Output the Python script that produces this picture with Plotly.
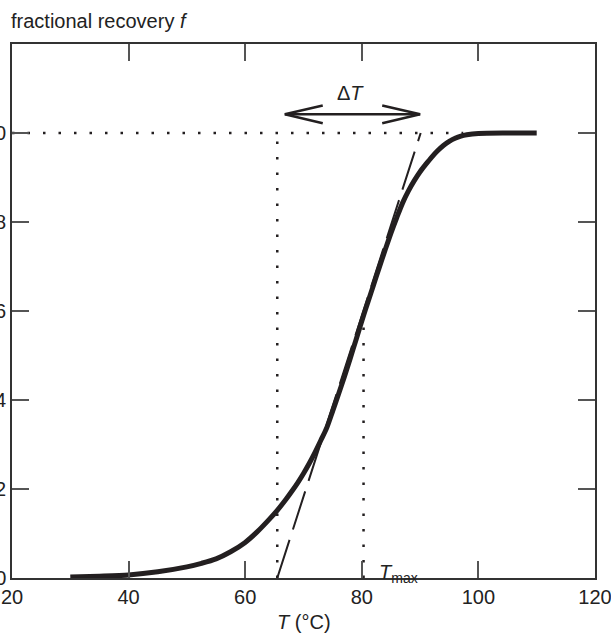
import plotly.graph_objects as go

# ---- data ----
T_curve = [30, 35, 40, 45, 50, 52.5, 55, 57.5, 60, 62, 64, 65.5, 67, 68, 69, 70,
           71, 72, 73, 74, 75, 76, 77, 78, 79, 80.3, 81, 82, 83, 84, 85, 86, 87,
           88, 89, 90, 91, 92, 93, 94, 95, 96, 97, 98, 100, 105, 110]
f_curve = [0.002, 0.004, 0.007, 0.014, 0.025, 0.033, 0.043, 0.059, 0.08, 0.103,
           0.13, 0.152, 0.177, 0.195, 0.214, 0.235, 0.258, 0.283, 0.31, 0.338,
           0.375, 0.413, 0.452, 0.493, 0.535, 0.59, 0.618, 0.658, 0.698, 0.737,
           0.775, 0.81, 0.843, 0.87, 0.893, 0.913, 0.93, 0.946, 0.96, 0.972,
           0.981, 0.988, 0.993, 0.996, 0.999, 1.0, 1.0]

T_onset = 65.5      # tangent meets f = 0
T_end = 90.1        # tangent meets f = 1
T_max = 80.3
f_at_Tmax = 0.59
T_plateau = 97.4    # where horizontal dotted line ends
arrow_T = [66.8, 90.0]
arrow_f = 1.042
head_dT = 6.5
head_df = 0.02

x_ticks = [20, 40, 60, 80, 100, 120]
y_ticks = [0, 0.2, 0.4, 0.6, 0.8, 1.0]
y_ticklabels = ["0", "0.2", "0.4", "0.6", "0.8", "1.0"]

INK = "#231f20"
FONT = "Liberation Sans, Arial, sans-serif"

fig = go.Figure()

dot = dict(color=INK, width=2.5, dash="2.5px,13px")

# dotted guides
fig.add_trace(go.Scatter(x=[x_ticks[0], T_plateau], y=[1.0, 1.0], mode="lines",
                         line=dot, hoverinfo="skip"))
fig.add_trace(go.Scatter(x=[T_onset, T_onset], y=[0, 1.0], mode="lines",
                         line=dot, hoverinfo="skip"))
fig.add_trace(go.Scatter(x=[T_max, T_max], y=[0, f_at_Tmax], mode="lines",
                         line=dot, hoverinfo="skip"))

# dashed tangent
fig.add_trace(go.Scatter(x=[T_onset, T_end], y=[0, 1.0], mode="lines",
                         line=dict(color=INK, width=2, dash="40px,11px"),
                         hoverinfo="skip"))

# main curve
fig.add_trace(go.Scatter(x=T_curve, y=f_curve, mode="lines",
                         line=dict(color=INK, width=5, shape="spline", smoothing=0.8),
                         hoverinfo="skip"))

# double arrow
aw = dict(color=INK, width=2.5)
fig.add_trace(go.Scatter(x=arrow_T, y=[arrow_f, arrow_f], mode="lines", line=aw,
                         hoverinfo="skip"))
L, R = arrow_T
fig.add_trace(go.Scatter(x=[L + head_dT, L, L + head_dT],
                         y=[arrow_f + head_df, arrow_f, arrow_f - head_df],
                         mode="lines", line=aw, hoverinfo="skip"))
fig.add_trace(go.Scatter(x=[R - head_dT, R, R - head_dT],
                         y=[arrow_f + head_df, arrow_f, arrow_f - head_df],
                         mode="lines", line=aw, hoverinfo="skip"))

axis_common = dict(showline=True, linecolor="#333333", linewidth=1.5,
                   ticks="inside", ticklen=17, tickwidth=1.5, tickcolor="#555555",
                   mirror="ticks", showgrid=False, zeroline=False, automargin=False,
                   ticklabeloverflow="allow",
                   tickfont=dict(family=FONT, size=20, color="#222222"))

fig.update_xaxes(range=[20, 120], tickvals=x_ticks, **axis_common)
fig.update_yaxes(range=[0, 1.2], tickvals=y_ticks, ticktext=y_ticklabels, **axis_common)

fig.update_layout(
    width=611, height=634,
    margin=dict(l=12, r=16, t=44, b=56, autoexpand=False),
    paper_bgcolor="white", plot_bgcolor="white",
    showlegend=False,
    font=dict(family=FONT, size=20, color="#222222"),
    annotations=[
        dict(text="fractional recovery <i>f</i>", xref="paper", yref="paper",
             x=0, y=1, xanchor="left", yanchor="bottom", xshift=-3, yshift=10,
             showarrow=False, font=dict(size=20)),
        dict(text="<i>T</i> (°C)", xref="paper", yref="paper", x=0.5, y=0,
             xanchor="center", yanchor="middle", yshift=-44, showarrow=False,
             font=dict(size=20)),
        dict(text="Δ<i>T</i>", x=78.0, y=1.09, xanchor="center", yanchor="middle",
             showarrow=False, font=dict(size=20)),
        dict(text="<i>T</i><sub>max</sub>", x=82.6, y=0.01, xanchor="left",
             yanchor="middle", showarrow=False, font=dict(size=20)),
    ],
)

# remove the default page margin so the figure fills the window from (0, 0)
fig.write_html("out.html",
               config={"displayModeBar": False},
               post_script="document.body.style.margin='0';")
